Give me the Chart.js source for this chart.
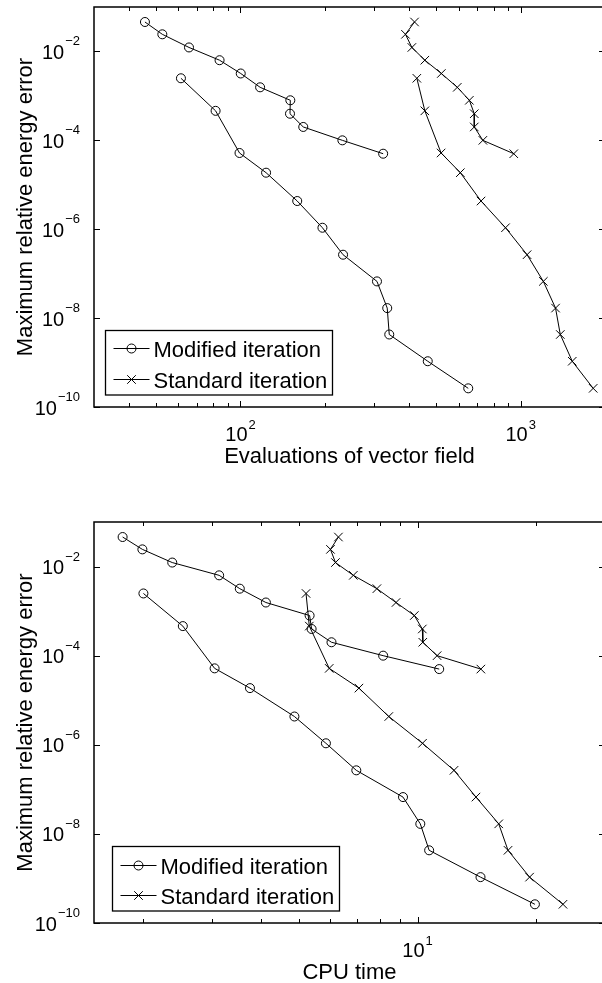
<!DOCTYPE html>
<html>
<head>
<meta charset="utf-8">
<title>Energy error vs cost</title>
<script src="https://cdn.jsdelivr.net/npm/chart.js@4.4.0/dist/chart.umd.min.js"></script>
<style>
  html, body { margin: 0; padding: 0; background: #fff; overflow: hidden; }
  .wrap { position: absolute; left: 0; width: 612px; }
</style>
</head>
<body>
<div class="wrap" style="top:0;height:490px"><canvas id="evalChart" width="612" height="490"></canvas></div>
<div class="wrap" style="top:490px;height:493px"><canvas id="cpuChart" width="612" height="493"></canvas></div>
<script>
// Error levels (same tolerances in both panels)
const errUpper = [4.6e-2, 2.43e-2, 1.23e-2, 6.35e-3, 3.19e-3, 1.56e-3, 7.96e-4, 3.97e-4, 2.0e-4, 1.0e-4, 5.0e-5];
const errLower = [2.49e-3, 4.61e-4, 5.19e-5, 1.87e-5, 4.31e-6, 1.08e-6, 2.67e-7, 6.7e-8, 1.68e-8, 4.28e-9, 1.07e-9, 2.63e-10];

// Evaluations of vector field
const evalModUpper = [45.6, 52.6, 65.5, 84.2, 100.2, 117.5, 150.6, 150.2, 167.5, 231, 323];
const evalModLower = [61.3, 81.5, 99.2, 123.4, 159.4, 196.1, 232.3, 307, 334, 339.6, 466, 650];
const evalStdUpper = [418, 388, 409, 455, 521, 594, 656, 683, 683, 733, 945];
const evalStdLower = [426, 455, 520, 609, 722, 883, 1054, 1205, 1332, 1385, 1528, 1815];

// CPU time
const cpuModUpper = [1.774, 1.992, 2.373, 3.124, 3.526, 4.109, 5.309, 5.372, 6.036, 8.171, 11.35];
const cpuModLower = [2.004, 2.525, 3.042, 3.743, 4.857, 5.842, 6.981, 9.18, 10.16, 10.7, 14.46, 19.89];
const cpuStdUpper = [6.287, 6.0, 6.178, 6.86, 7.877, 8.812, 9.81, 10.28, 10.31, 11.21, 14.49];
const cpuStdLower = [5.199, 5.3, 5.956, 7.09, 8.446, 10.29, 12.38, 14.08, 16.09, 16.99, 19.28, 23.45];

const seriesLabels = ['Modified iteration', 'Standard iteration'];
const yTickValues = [1e-10, 1e-8, 1e-6, 1e-4, 1e-2];
const evalTickValues = [100, 1000];
const cpuTickValues = [10];

const FONT = "'Liberation Sans', Arial, Helvetica, sans-serif";

function pair(xs, ys) {
    return xs.map(function(x, i) { return { x: x, y: ys[i] }; });
}

// draw "10" with a raised exponent, returns nothing
function powerLabel(ctx, v, x, baseY, expY, align) {
    const e = Math.round(Math.log10(v));
    const expText = e < 0 ? '\u2212' + (-e) : String(e);
    ctx.font = '20px ' + FONT;
    const wb = ctx.measureText('10').width;
    ctx.font = '13px ' + FONT;
    const we = ctx.measureText(expText).width;
    const total = wb + 1 + we;
    let start = align === 'right' ? x - total : x - total / 2;
    ctx.textAlign = 'left';
    ctx.textBaseline = 'alphabetic';
    ctx.font = '20px ' + FONT;
    ctx.fillText('10', start, baseY);
    ctx.font = '13px ' + FONT;
    ctx.fillText(expText, start + wb + 1, expY);
}

function drawMarker(ctx, style, x, y) {
    ctx.beginPath();
    if (style === 'circle') {
        ctx.arc(x, y, 4.5, 0, Math.PI * 2);
    } else {
        const d = 4.3;
        ctx.moveTo(x - d, y - d); ctx.lineTo(x + d, y + d);
        ctx.moveTo(x - d, y + d); ctx.lineTo(x + d, y - d);
    }
    ctx.stroke();
}

// MATLAB-like box axes: inward ticks on all sides, 10^n labels, titles, legend
const matlabAxes = {
    id: 'matlabAxes',
    afterDatasetsDraw(chart, args, opts) {
        const ctx = chart.ctx;
        const a = chart.chartArea;
        const x = chart.scales.x;
        const y = chart.scales.y;
        ctx.save();
        ctx.strokeStyle = '#000';
        ctx.fillStyle = '#000';
        ctx.lineWidth = 1;

        // x ticks: decades and minor 2..9
        const lo = Math.floor(Math.log10(x.min));
        const hi = Math.ceil(Math.log10(x.max));
        ctx.beginPath();
        for (let e = lo; e <= hi; e++) {
            for (let m = 1; m <= 9; m++) {
                const v = m * Math.pow(10, e);
                if (v <= x.min || v >= x.max) continue;
                const px = Math.round(x.getPixelForValue(v)) + 0.5;
                const len = m === 1 ? 6 : 4;
                ctx.moveTo(px, a.bottom); ctx.lineTo(px, a.bottom - len);
                ctx.moveTo(px, a.top); ctx.lineTo(px, a.top + len);
            }
        }
        yTickValues.forEach(function(v) {
            const py = Math.round(y.getPixelForValue(v)) + 0.5;
            ctx.moveTo(a.left, py); ctx.lineTo(a.left + 6, py);
            ctx.moveTo(a.right, py); ctx.lineTo(a.right - 6, py);
        });
        ctx.stroke();

        // box
        ctx.lineWidth = 1.5;
        ctx.strokeRect(a.left, a.top, a.right - a.left, a.bottom - a.top);

        // tick labels
        yTickValues.forEach(function(v) {
            const py = y.getPixelForValue(v);
            powerLabel(ctx, v, a.left - 14, py + 7.5, py - 6, 'right');
        });
        opts.xTicks.forEach(function(v) {
            const px = x.getPixelForValue(v);
            powerLabel(ctx, v, px, a.bottom + 33.5, a.bottom + 22, 'center');
        });

        // axis titles
        ctx.font = '22px ' + FONT;
        ctx.textAlign = 'center';
        ctx.textBaseline = 'alphabetic';
        ctx.fillText(opts.xTitle, (a.left + a.right) / 2, a.bottom + 55.5);
        ctx.save();
        ctx.translate(32, (a.top + a.bottom) / 2);
        ctx.rotate(-Math.PI / 2);
        ctx.fillText(opts.yTitle, 0, 0);
        ctx.restore();

        // legend
        const lg = opts.legend;
        const bx = Math.round(a.left + lg.left) + 0.5;
        const by = Math.round(a.bottom - lg.bottom - lg.height) + 0.5;
        ctx.fillStyle = '#fff';
        ctx.fillRect(bx, by, lg.width, lg.height);
        ctx.lineWidth = 1.3;
        ctx.strokeRect(bx, by, lg.width, lg.height);
        ctx.fillStyle = '#000';
        ctx.font = '22px ' + FONT;
        ctx.textAlign = 'left';
        chart.data.datasets.slice(0, 2).forEach(function(ds, i) {
            const ry = Math.round(by + lg.rows[i]) + 0.5;
            ctx.lineWidth = 1;
            ctx.beginPath();
            ctx.moveTo(bx + 8, ry); ctx.lineTo(bx + 44, ry);
            ctx.stroke();
            drawMarker(ctx, ds.pointStyle, bx + 26, ry);
            ctx.fillText(ds.label, bx + 48, ry + 8);
        });
        ctx.restore();
    }
};

function makeDatasets(modUpper, modLower, stdUpper, stdLower) {
    const circle = {
        pointStyle: 'circle', pointRadius: 4.5, pointBorderWidth: 1,
        pointBorderColor: '#000', pointBackgroundColor: 'rgba(0,0,0,0)',
        borderColor: '#000', borderWidth: 1, showLine: true, clip: false
    };
    const cross = {
        pointStyle: 'crossRot', pointRadius: 6, pointBorderWidth: 1,
        pointBorderColor: '#000', pointBackgroundColor: 'rgba(0,0,0,0)',
        borderColor: '#000', borderWidth: 1, showLine: true, clip: false
    };
    return [
        Object.assign({ label: seriesLabels[0], data: pair(modUpper, errUpper) }, circle),
        Object.assign({ label: seriesLabels[1], data: pair(stdUpper, errUpper) }, cross),
        Object.assign({ label: '', data: pair(modLower, errLower) }, circle),
        Object.assign({ label: '', data: pair(stdLower, errLower) }, cross)
    ];
}

function createPanel(id, datasets, xMin, xMax, padding, axesOpts) {
    new Chart(document.getElementById(id), {
        type: 'scatter',
        data: { datasets: datasets },
        options: {
            responsive: false,
            animation: false,
            devicePixelRatio: 1,
            layout: { padding: padding },
            elements: { line: { tension: 0 } },
            plugins: {
                legend: { display: false },
                tooltip: { enabled: false },
                matlabAxes: axesOpts
            },
            scales: {
                x: { type: 'logarithmic', display: false, min: xMin, max: xMax },
                y: { type: 'logarithmic', display: false, min: 1e-10, max: 1e-1 }
            }
        },
        plugins: [matlabAxes]
    });
}

createPanel('evalChart',
    makeDatasets(evalModUpper, evalModLower, evalStdUpper, evalStdLower),
    30, 2000,
    { left: 94, top: 7, right: 5, bottom: 83 },
    {
        xTicks: evalTickValues,
        xTitle: 'Evaluations of vector field',
        yTitle: 'Maximum relative energy error',
        legend: { left: 11, bottom: 13, width: 227, height: 64.5, rows: [17.5, 48] }
    });

createPanel('cpuChart',
    makeDatasets(cpuModUpper, cpuModLower, cpuStdUpper, cpuStdLower),
    1.5, 30,
    { left: 94, top: 32, right: 5, bottom: 60 },
    {
        xTicks: cpuTickValues,
        xTitle: 'CPU time',
        yTitle: 'Maximum relative energy error',
        legend: { left: 17.5, bottom: 13, width: 227, height: 64.5, rows: [18.5, 48.5] }
    });
</script>
</body>
</html>
